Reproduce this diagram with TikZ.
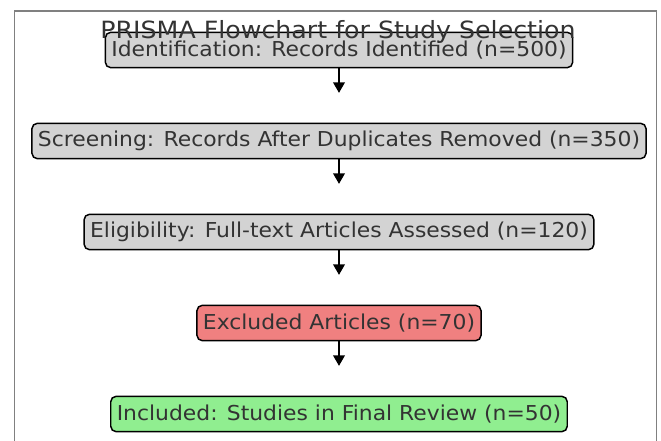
\documentclass[tikz,border=0pt]{standalone}
\usepackage{fontspec}
\setmainfont{DejaVu Sans}[FakeStretch=1.065]
\usetikzlibrary{positioning, arrows.meta}

\definecolor{boxgray}{HTML}{D3D3D3}
\definecolor{boxred}{HTML}{F08080}
\definecolor{boxgreen}{HTML}{90EE90}
\definecolor{textgray}{HTML}{333333}
\definecolor{framegray}{HTML}{808080}

\tikzset{
    stage/.style={draw=black, line width=1.1pt, rounded corners=4pt,
        minimum height=26.5pt, inner xsep=4.5pt, text=textgray,
        font=\fontsize{15.4}{18}\selectfont},
    flow/.style={-{Triangle[length=8pt,width=8.5pt]}, line width=1.9pt},
}

\begin{document}
\begin{tikzpicture}[x=0.75pt, y=-0.75pt]
        % Page and frame
        \useasboundingbox (0,0) rectangle (661,441);
        \draw[framegray, line width=1.1pt] (14.5,441) -- (14.5,11) -- (656.5,11) -- (656.5,441);

        % Stages of the selection
        \node[stage, fill=boxgray] (ident) at (339,50) {Identification: Records Identified (n=500)};
        \node[stage, fill=boxgray] (screen) at (339,141) {Screening: Records After Duplicates Removed (n=350)};
        \node[stage, fill=boxgray] (elig) at (339,232) {Eligibility: Full-text Articles Assessed (n=120)};
        \node[stage, fill=boxred] (excl) at (339,323) {Excluded Articles (n=70)};
        \node[stage, fill=boxgreen] (incl) at (339,414) {Included: Studies in Final Review (n=50)};

        % Arrow ends
        \coordinate (a1) at (339,93);
        \coordinate (a2) at (339,184);
        \coordinate (a3) at (339,275);
        \coordinate (a4) at (339,366);

        % Draw the arrows
        \draw[flow] (ident) -- (a1);
        \draw[flow] (screen) -- (a2);
        \draw[flow] (elig) -- (a3);
        \draw[flow] (excl) -- (a4);

        % Title
        \node[text=textgray, font=\fontsize{17.8}{21}\selectfont] (title) at (338,32) {PRISMA Flowchart for Study Selection};
    \end{tikzpicture}
\end{document}
